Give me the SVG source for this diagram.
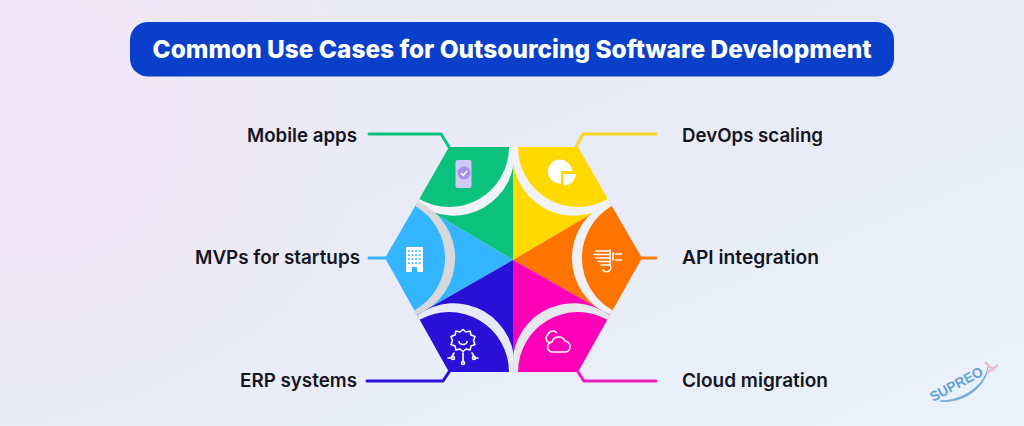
<svg xmlns="http://www.w3.org/2000/svg" width="1024" height="426" viewBox="0 0 1024 426">
<defs>
<linearGradient id="bg" x1="0" y1="0" x2="1" y2="1"><stop offset="0" stop-color="#ebeaf6"/><stop offset="0.5" stop-color="#e9ebf7"/><stop offset="1" stop-color="#e9f2fa"/></linearGradient>
<radialGradient id="lav" gradientUnits="userSpaceOnUse" cx="30" cy="110" r="330"><stop offset="0" stop-color="#f3e4f8"/><stop offset="1" stop-color="#f3e4f8" stop-opacity="0"/></radialGradient>
</defs>
<style>
.lab{font-family:Inter,"Liberation Sans",sans-serif;font-size:19px;font-weight:600;fill:#15151f}
.con{fill:none;stroke-width:3;stroke-linecap:round;stroke-linejoin:miter}
.ico{fill:none;stroke:#fff;stroke-width:1.6;stroke-linecap:round;stroke-linejoin:round}
</style>
<rect width="1024" height="426" fill="url(#bg)"/>
<rect width="1024" height="426" fill="url(#lav)"/>
<g id="title"><rect x="130" y="22" width="764" height="54.500" rx="18" fill="#0a3fc9"/>
<text x="512" y="58" text-anchor="middle" font-family="Inter,'Liberation Sans',sans-serif" font-size="24.500" font-weight="800" fill="#fff" textLength="719" lengthAdjust="spacingAndGlyphs">Common Use Cases for Outsourcing Software Development</text></g>
<g id="connectors">
<path class="con" stroke="#0bc27c" d="M369 134H441L449 147"/>
<path class="con" stroke="#f6d820" d="M656 134H583L576 147"/>
<path class="con" stroke="#33b5ff" d="M369 258H386"/>
<path class="con" stroke="#ff7a14" d="M656 258H640"/>
<path class="con" stroke="#2a0fd6" d="M367 381H443L449 372"/>
<path class="con" stroke="#f01db8" d="M656 381H584L578 372"/>
</g>
<g id="node-mobile">
<path fill="#0bc27c" d="M513 260V147H449L417 203Z"/>
<path fill="#f1f3f8" d="M514 147A61 61 0 0 1 416.800 203.400L419.200 199.100A60 60 0 0 0 509 147Z"/>
<rect x="455.500" y="160" width="16" height="28" rx="2" fill="#cfcaf6"/>
<circle cx="464" cy="173" r="6.500" fill="#a98eea"/><path d="M461 173l2.200 2.400 4-4.500" fill="none" stroke="#fff" stroke-width="1.500"/>
<text class="lab" x="357" y="142" text-anchor="end" textLength="110" lengthAdjust="spacingAndGlyphs">Mobile apps</text></g>
<g id="node-devops">
<path fill="#ffd900" d="M513 260V147H578L610 203Z"/>
<path fill="#f1f3f8" d="M610.200 203.400A61 61 0 0 1 513 147H518A60 60 0 0 0 607.800 199.100Z"/>
<path fill="#fff" d="M572 171H561V183.500A12 12 0 1 1 572 171Z"/>
<path fill="#fff" d="M563.500 174H576A12.500 12.500 0 0 1 563.500 185.500Z"/>
<text class="lab" x="682" y="142" textLength="141" lengthAdjust="spacingAndGlyphs">DevOps scaling</text></g>
<g id="node-mvp">
<path fill="#33b5ff" d="M513 260L417 203L385 258L417 315Z"/>
<path fill="#d6d8dc" d="M417.700 201.800A61 61 0 0 1 416.900 314.700L414.400 310.300A60 60 0 0 0 415.200 206.100Z"/>
<path fill="#fff" d="M406 247h17v25h-6v-5h-5v5h-6z"/>
<g stroke="#33b5ff" stroke-width="1.400" stroke-dasharray="2 1.500"><path d="M408 251h13M408 255h13M408 259h13M408 263h13"/></g>
<text class="lab" x="360" y="264" text-anchor="end" textLength="165" lengthAdjust="spacingAndGlyphs">MVPs for startups</text></g>
<g id="node-api">
<path fill="#ff7300" d="M513 260L610 203L642 258L610 315Z"/>
<path fill="#eef0f4" d="M610.200 314.700A61 61 0 0 1 609.300 201.800L611.800 206.100A60 60 0 0 0 612.600 310.300Z"/>
<g class="ico" stroke="#ffe9c9"><path d="M596 251h13M594 254.500h15M596 258h13M598 261.500h11M601 265h8"/><path d="M610 250v15a3.500 3.500 0 0 1-7 5M613 253v7M615.500 254h6M615.500 260h6"/></g>
<text class="lab" x="682" y="264" textLength="137" lengthAdjust="spacingAndGlyphs">API integration</text></g>
<g id="node-erp">
<path fill="#2a0fd6" d="M513 260L417 315L449 372H513Z"/>
<path fill="#e7e9f6" d="M417.100 315.300A61 61 0 0 1 514 372H509A60 60 0 0 0 419.600 319.700Z"/>
<path class="ico" d="M463 329.500l3 2.500 4-1 1 4 4 1.500-1.500 4 1.500 4-4 1.500-1 4-4-1-3 2.500-3-2.500-4 1-1-4-4-1.500 1.500-4-1.500-4 4-1.500 1-4 4 1zM459 341.500a4 3 0 0 0 8 0M463 353v9M454 353l-3 5h-3M472 353l3 5h3"/>
<circle class="ico" cx="463" cy="363" r="1.500"/><circle class="ico" cx="453" cy="358" r="1.500"/><circle class="ico" cx="474" cy="358" r="1.500"/>
<text class="lab" x="357" y="387" text-anchor="end" textLength="117" lengthAdjust="spacingAndGlyphs">ERP systems</text></g>
<g id="node-cloud">
<path fill="#ff00b8" d="M513 260L610 315L578 372H513Z"/>
<path fill="#e6e7ea" d="M513 372A61 61 0 0 1 609.900 315.300L607.400 319.700A60 60 0 0 0 518 372Z"/>
<path class="ico" stroke-width="1.800" d="M553 352a5 5 0 0 1-1-10 7 7 0 0 1 13-1 5.500 5.500 0 0 1 5 6 5 5 0 0 1-4.500 5zM552 342a5 5 0 0 1-3 .5 4.500 4.500 0 0 1-1.500-7.500 5.500 5.500 0 0 1 9-2.500"/>
<text class="lab" x="682" y="387" textLength="146" lengthAdjust="spacingAndGlyphs">Cloud migration</text></g>
<g id="logo" opacity="0.85">
<path d="M940 401C962 404 986 388 988 367C985 386 962 401 940 401Z" fill="#5f9fd0" stroke="#6aa6d4" stroke-width="1"/>
<text x="933" y="402" transform="rotate(-28 933 402)" font-family="'Liberation Sans',sans-serif" font-size="14" font-weight="700" fill="#4f93c9" textLength="58" lengthAdjust="spacingAndGlyphs">SUPREO</text>
<path d="M985 362L994 371M987 373L998 365" stroke="#f2b6c4" stroke-width="2.500" fill="none"/>
</g>
</svg>
